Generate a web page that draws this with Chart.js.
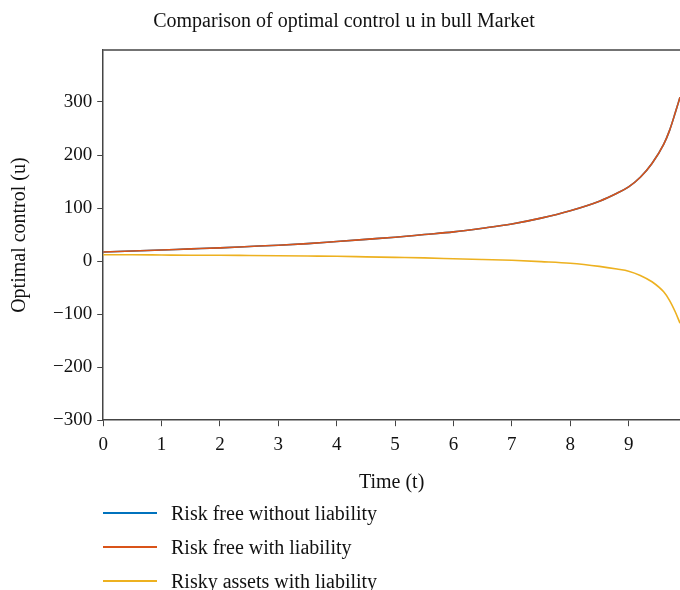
<!DOCTYPE html>
<html>
<head>
<meta charset="utf-8">
<script src="https://cdn.jsdelivr.net/npm/chart.js@4"></script>
<style>
  body { margin: 0; background: #fff; }
  #wrap { position: relative; width: 680px; height: 590px; }
  #chart { position: absolute; left: 0; top: 0; }
  #legend { position: absolute; left: 103px; top: 496px; font-family: "Liberation Serif", serif; font-size: 20px; color: #111; }
  .item { height: 34px; display: flex; align-items: center; }
  .swatch { width: 54px; height: 1.5px; margin-right: 14px; }
</style>
</head>
<body>
<div id="wrap">
  <canvas id="chart" width="680" height="500"></canvas>
  <div id="legend"></div>
</div>
<script>
// values
const times = [0, 0.5, 1, 1.5, 2, 2.5, 3, 3.5, 4, 4.5, 5, 5.5, 6, 6.5, 7, 7.5, 8, 8.5, 8.8, 9, 9.2, 9.4, 9.6, 9.7, 9.8, 9.88];
const riskFreeNoLiab = [17, 19, 21, 23, 25, 27.5, 30, 33, 37, 41, 45, 50, 55, 62, 70, 81, 95, 113, 128, 140, 158, 184, 220, 246, 280, 309];
const riskFreeLiab = [17, 19, 21, 23, 25, 27.5, 30, 33, 37, 41, 45, 50, 55, 62, 70, 81, 95, 113, 128, 140, 158, 184, 220, 246, 280, 309];
const riskyLiab = [12, 12, 11.5, 11, 11, 10.5, 10, 9.5, 9, 8, 7, 6, 4.5, 3, 1.5, -1, -4, -10, -15, -19, -27, -39, -58, -74, -96, -117];
const xTicks = [0, 1, 2, 3, 4, 5, 6, 7, 8, 9];
const yTicks = [-300, -200, -100, 0, 100, 200, 300];

const seriesNames = ['Risk free without liability', 'Risk free with liability', 'Risky assets with liability'];
const seriesColors = ['#0072BD', '#D95319', '#EDB120'];
const seriesValues = [riskFreeNoLiab, riskFreeLiab, riskyLiab];
const drawOrder = [2, 1, 0];

const font = "'Liberation Serif', serif";

function toPoints(vals) {
    return times.map((t, i) => ({ x: t, y: vals[i] }));
}

const datasets = seriesNames.map((name, i) => ({
    label: name,
    data: toPoints(seriesValues[i]),
    borderColor: seriesColors[i],
    backgroundColor: seriesColors[i],
    borderWidth: 1.6,
    pointRadius: 0,
    cubicInterpolationMode: 'monotone',
    order: drawOrder[i],
    clip: false
}));

const topBorder = {
    id: 'topBorder',
    afterDraw(chart) {
        const { ctx, chartArea } = chart;
        ctx.save();
        ctx.strokeStyle = '#444';
        ctx.lineWidth = 1.5;
        ctx.beginPath();
        ctx.moveTo(chartArea.left, chartArea.top);
        ctx.lineTo(chartArea.right, chartArea.top);
        ctx.stroke();
        ctx.restore();
    }
};

new Chart(document.getElementById('chart').getContext('2d'), {
    type: 'line',
    data: { datasets: datasets },
    options: {
        responsive: false,
        animation: false,
        layout: { padding: { left: 8, right: 0, top: 0, bottom: 5 } },
        plugins: {
            legend: { display: false },
            tooltip: { enabled: false },
            title: {
                display: true,
                text: 'Comparison of optimal control u in bull Market',
                color: '#111',
                font: { family: font, size: 20, weight: 'normal' },
                padding: { top: 10, bottom: 16 }
            }
        },
        scales: {
            x: {
                type: 'linear',
                min: 0,
                max: 9.88,
                afterBuildTicks(axis) { axis.ticks = xTicks.map(v => ({ value: v })); },
                ticks: { color: '#111', font: { family: font, size: 19 }, padding: 7, maxRotation: 0 },
                grid: { drawOnChartArea: false, drawTicks: true, tickLength: 6, color: '#444' },
                border: { color: '#444', width: 1.5 },
                title: { display: true, text: 'Time (t)', color: '#111', font: { family: font, size: 20 }, padding: { top: 8, bottom: 0 } }
            },
            y: {
                min: -300,
                max: 398,
                afterBuildTicks(axis) { axis.ticks = yTicks.map(v => ({ value: v })); },
                ticks: {
                    color: '#111', font: { family: font, size: 19 }, padding: 5,
                    callback: v => String(v).replace('-', '\u2212')
                },
                grid: { drawOnChartArea: false, drawTicks: true, tickLength: 6, color: '#444' },
                border: { color: '#444', width: 1.5 },
                title: { display: true, text: 'Optimal control (u)', color: '#111', font: { family: font, size: 20 }, padding: { top: 0, bottom: 16 } }
            }
        }
    },
    plugins: [topBorder]
});

const legend = document.getElementById('legend');
seriesNames.forEach((name, i) => {
    const row = document.createElement('div');
    row.className = 'item';
    row.innerHTML = '<span class="swatch" style="background:' + seriesColors[i] + '"></span><span>' + name + '</span>';
    legend.appendChild(row);
});
</script>
</body>
</html>
